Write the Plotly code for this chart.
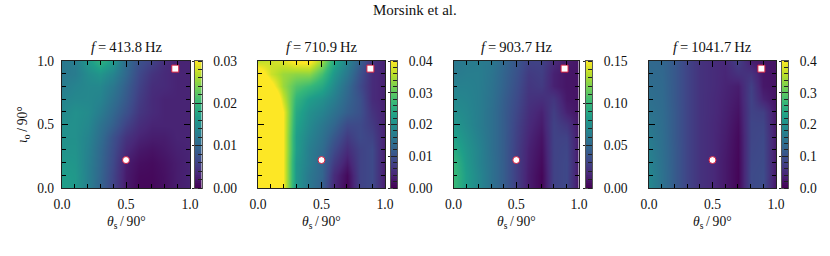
import plotly.graph_objects as go

W, H = 830, 256
FONT = "Liberation Serif"
FS = 13.6
TS = 14.6

freqs = ["413.8", "710.9", "903.7", "1041.7"]
x_grid = [0.0, 0.1, 0.2, 0.3, 0.4, 0.5, 0.6, 0.7, 0.8, 0.9, 1.0]
y_grid = [1.0, 0.9, 0.8, 0.7, 0.6, 0.5, 0.4, 0.3, 0.2, 0.1, 0.0]

z_413 = [
    [12, 12.6, 16, 19, 16, 10.5, 7.5, 6, 3.9, 3, 3],
    [12, 12.6, 14.5, 15.5, 13.5, 10, 6.6, 4.5, 3.6, 3, 3],
    [12.6, 13.5, 14, 14, 12, 9, 6, 3.9, 3.6, 3, 3],
    [13.5, 14, 14, 13.5, 11, 8.4, 5.4, 3.6, 3, 3, 3],
    [14, 15, 14.4, 12.6, 10, 7.5, 4.8, 3.6, 3, 3, 3],
    [15, 15, 14, 11.4, 9, 6, 3.9, 3, 3, 3, 3],
    [15, 15, 13.5, 10.8, 7.5, 4.5, 3, 2.4, 2.4, 3, 3],
    [15.3, 15.3, 13.2, 10.2, 7, 3.5, 2, 1.5, 2, 2.7, 3],
    [16, 15.6, 13, 10, 6.6, 2.4, 1.2, 0.9, 1.5, 2.4, 3],
    [16.5, 15.9, 13, 9.8, 6.2, 2.2, 0.8, 0.7, 1.3, 2.4, 3],
    [16.8, 16, 13, 9.6, 6, 2.1, 0.6, 0.6, 1.2, 2.4, 3],
]
z_710 = [
    [36, 37, 38, 41, 41, 34, 24, 18, 12, 6, 3.5],
    [44, 37, 34, 33, 33, 28, 21, 16, 10, 5, 3.5],
    [50, 42, 34, 29, 27, 24, 19, 14, 9, 5, 3.5],
    [50, 50, 37, 26, 22, 20, 17, 13, 10, 5, 3.5],
    [50, 50, 40, 24, 20, 18, 15, 12, 10, 6, 3.5],
    [50, 50, 40, 23, 19, 16, 13, 9, 9, 7, 3.5],
    [50, 50, 40, 22, 18, 15, 11, 7, 9, 8, 3.5],
    [50, 50, 40, 22, 17, 14, 9, 5, 8, 9, 3],
    [50, 50, 40, 21, 17, 13, 7, 3, 8, 9, 3],
    [50, 50, 40, 21, 16, 13, 5, 1, 8, 9, 3],
    [50, 50, 40, 21, 16, 12, 4.5, 0.5, 8, 9, 3],
]
z_903 = [
    [60, 62, 63, 60, 50, 40, 30, 30, 18, 12, 9],
    [62, 64, 64, 58, 48, 38, 26, 28, 14, 9, 8],
    [66, 66, 64, 57, 47, 36, 24, 26, 14, 9, 8],
    [70, 68, 64, 56, 45, 34, 22, 20, 24, 10, 8],
    [74, 70, 64, 55, 44, 32, 20, 14, 28, 14, 8],
    [80, 72, 64, 55, 44, 30, 18, 11, 30, 24, 8],
    [85, 75, 66, 55, 44, 29, 16, 8, 30, 30, 8],
    [92, 78, 68, 55, 44, 28, 14, 6, 30, 32, 8],
    [100, 80, 68, 56, 44, 28, 13, 4, 30, 33, 8],
    [102, 82, 70, 56, 44, 28, 12, 2, 30, 33, 7],
    [102, 82, 70, 56, 44, 28, 12, 2, 30, 33, 6],
]
z_1041 = [
    [135, 132, 112, 82, 58, 50, 44, 76, 32, 24, 20],
    [138, 134, 112, 82, 58, 50, 42, 56, 60, 24, 20],
    [142, 136, 112, 82, 58, 50, 40, 32, 76, 26, 20],
    [146, 138, 112, 82, 58, 48, 38, 26, 80, 40, 20],
    [152, 140, 114, 82, 58, 48, 36, 20, 80, 76, 22],
    [160, 142, 114, 82, 58, 46, 34, 14, 84, 84, 24],
    [165, 144, 114, 82, 58, 46, 32, 10, 84, 88, 26],
    [172, 146, 116, 82, 58, 46, 30, 8, 86, 90, 26],
    [178, 148, 116, 82, 58, 46, 28, 6, 88, 92, 26],
    [184, 150, 116, 82, 58, 46, 28, 5, 90, 94, 24],
    [186, 150, 116, 82, 58, 46, 28, 5, 90, 94, 20],
]
panels_z = [z_413, z_710, z_903, z_1041]
scale = 0.001
zmax = [0.03, 0.04, 0.15, 0.4]
cb_major = [0.01, 0.01, 0.05, 0.1]
cb_fmt = [".2f", ".2f", ".2f", ".1f"]
circle_pt = (0.5, 0.22)
square_pt = (0.885, 0.94)
map_ticks = [0.0, 0.5, 1.0]

map_left = [62, 258, 453.5, 649]
map_right = [190, 385, 579, 776]
cb_left = [195, 391, 586, 782]
cb_right = [201.5, 397, 592, 788]
top, bottom = 61, 188

ink = "#222222"
fig = go.Figure()
layout = {}
ann = []


def fx(p):
    return p / W


def fy(p):
    return 1 - p / H


axn = 1
for i in range(4):
    xn = "x" if axn == 1 else f"x{axn}"
    yn = "y" if axn == 1 else f"y{axn}"
    xk = "xaxis" if axn == 1 else f"xaxis{axn}"
    yk = "yaxis" if axn == 1 else f"yaxis{axn}"
    z = [[v * scale for v in row] for row in panels_z[i]]
    fig.add_trace(go.Heatmap(x=x_grid, y=y_grid, z=z, zmin=0, zmax=zmax[i], colorscale="Viridis",
                             zsmooth="best", showscale=False, xaxis=xn, yaxis=yn, hoverinfo="skip"))
    fig.add_trace(go.Scatter(x=[circle_pt[0]], y=[circle_pt[1]], mode="markers", xaxis=xn, yaxis=yn,
                             marker=dict(symbol="circle", size=7, color="white", line=dict(color="#d62040", width=1)),
                             showlegend=False, hoverinfo="skip"))
    fig.add_trace(go.Scatter(x=[square_pt[0]], y=[square_pt[1]], mode="markers", xaxis=xn, yaxis=yn,
                             marker=dict(symbol="square", size=7, color="white", line=dict(color="#d62040", width=1)),
                             showlegend=False, hoverinfo="skip"))
    common = dict(range=[0, 1], tickvals=map_ticks, ticktext=["0.0", "0.5", "1.0"], ticks="inside", ticklen=6,
                  tickwidth=1, tickcolor="black", showline=True, linecolor=ink, linewidth=1.2, mirror="ticks",
                  showgrid=False, zeroline=False, ticklabelstandoff=4,
                  tickfont=dict(family=FONT, size=FS, color="#111"),
                  minor=dict(ticks="inside", ticklen=3.5, tickwidth=1, tickcolor="black", dtick=0.1, tick0=0, showgrid=False))
    layout[xk] = dict(common, domain=[fx(map_left[i]), fx(map_right[i])], anchor=yn)
    ya = dict(common, domain=[fy(bottom), fy(top)], anchor=xn)
    if i > 0:
        ya["showticklabels"] = False
    layout[yk] = ya

    cx = axn + 1
    cxn, cyn = f"x{cx}", f"y{cx}"
    n = 64
    lev = [zmax[i] * k / (n - 1) for k in range(n)]
    fig.add_trace(go.Heatmap(x=[0, 1], y=lev, z=[[v, v] for v in lev], zmin=0, zmax=zmax[i], colorscale="Viridis",
                             showscale=False, xaxis=cxn, yaxis=cyn, hoverinfo="skip"))
    nt = int(round(zmax[i] / cb_major[i]))
    vals = [cb_major[i] * k for k in range(nt + 1)]
    layout[f"xaxis{cx}"] = dict(domain=[fx(cb_left[i]), fx(cb_right[i])], anchor=cyn, range=[0, 1], showticklabels=False,
                                ticks="", showline=True, linecolor="#555", linewidth=1, mirror=True, showgrid=False, zeroline=False)
    layout[f"yaxis{cx}"] = dict(domain=[fy(bottom), fy(top)], anchor=cxn, side="right", range=[0, zmax[i]],
                                tickvals=vals, ticktext=[format(v, cb_fmt[i]) for v in vals], ticks="", ticklabelstandoff=8,
                                tickfont=dict(family=FONT, size=FS, color="#111"), showline=True, linecolor="#555", linewidth=1,
                                mirror=True, showgrid=False, zeroline=False,
                                minor=dict(ticks="inside", ticklen=4, tickwidth=1, tickcolor="#222", dtick=cb_major[i] / 5, tick0=0, showgrid=False))
    ov = axn + 2
    fig.add_trace(go.Scatter(x=[0], y=[0], mode="markers", marker=dict(opacity=0), xaxis=cxn, yaxis=f"y{ov}",
                             showlegend=False, hoverinfo="skip"))
    layout[f"yaxis{ov}"] = dict(overlaying=cyn, anchor=cxn, side="left", range=[0, zmax[i]], tickvals=vals, showticklabels=False,
                                ticks="outside", ticklen=2.5, tickwidth=1, tickcolor="#222", showgrid=False, zeroline=False, showline=False)
    ov2 = axn + 3
    fig.add_trace(go.Scatter(x=[0], y=[0], mode="markers", marker=dict(opacity=0), xaxis=cxn, yaxis=f"y{ov2}",
                             showlegend=False, hoverinfo="skip"))
    layout[f"yaxis{ov2}"] = dict(overlaying=cyn, anchor=cxn, side="left", range=[0, zmax[i]], tickvals=vals, showticklabels=False,
                                 ticks="inside", ticklen=3, tickwidth=1, tickcolor="#222", showgrid=False, zeroline=False, showline=False)
    axn += 4

    cxm = (map_left[i] + map_right[i]) / 2
    ann.append(dict(text=f"<i>f</i>\u2009=\u2009{freqs[i]}\u2009Hz", x=fx(cxm), y=fy(47), xref="paper", yref="paper",
                    showarrow=False, xanchor="center", yanchor="middle", font=dict(family=FONT, size=TS, color="#111")))
    ann.append(dict(text="<i>θ</i><sub>s</sub>\u2009/\u200990°", x=fx(cxm), y=fy(222), xref="paper", yref="paper",
                    showarrow=False, xanchor="center", yanchor="middle", font=dict(family=FONT, size=FS, color="#111")))

ann.append(dict(text="<i>ι</i><sub>o</sub>\u2009/\u200990°", x=fx(23), y=fy(125), xref="paper", yref="paper", textangle=-90,
                showarrow=False, xanchor="center", yanchor="middle", font=dict(family=FONT, size=FS, color="#111")))
ann.append(dict(text="Morsink et al.", x=fx(415), y=fy(10), xref="paper", yref="paper",
                showarrow=False, xanchor="center", yanchor="middle", font=dict(family=FONT, size=15, color="#111")))

fig.update_layout(width=W, height=H, margin=dict(l=0, r=0, t=0, b=0, pad=0, autoexpand=False), plot_bgcolor="white", paper_bgcolor="white",
                  showlegend=False, annotations=ann, **layout)
fig.write_html("out.html", config={"displayModeBar": False},
               post_script="document.body.style.margin='0';document.documentElement.style.overflow='hidden';")
